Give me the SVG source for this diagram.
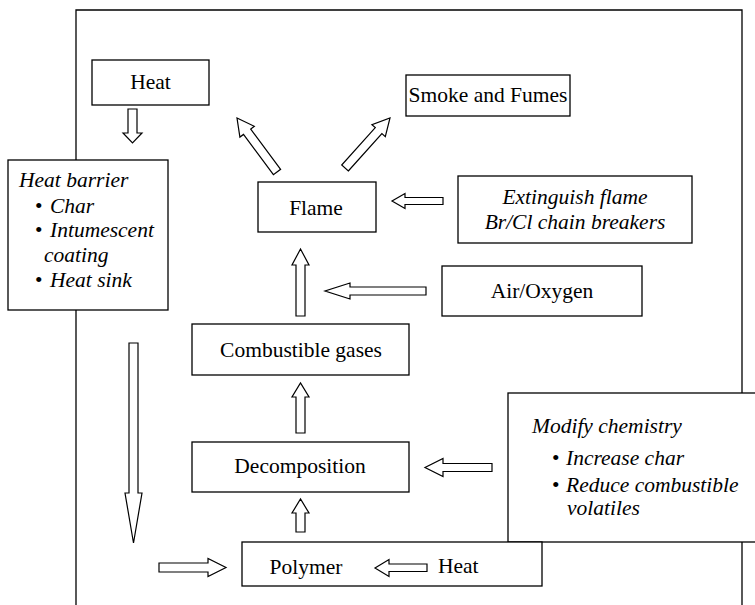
<svg xmlns="http://www.w3.org/2000/svg" width="755" height="605" viewBox="0 0 755 605">
<style>
.box{fill:#fff;stroke:#000;stroke-width:1.3}
.arr{fill:#fff;stroke:#000;stroke-width:1.2;stroke-linejoin:miter}
.frame{fill:none;stroke:#000;stroke-width:1.3}
text{font-family:'Liberation Serif','DejaVu Serif',serif;font-size:21.5px;fill:#000}
.c{text-anchor:middle}
.i{font-style:italic}
</style>
<rect width="755" height="605" fill="#fff"/>
<path class="frame" d="M76,606 V10 H742 V606"/>
<g id="heat-top">
<rect class="box" x="92" y="60" width="117" height="45"/>
<text class="c" x="150.5" y="89">Heat</text>
</g>
<g id="heat-barrier">
<rect class="box" x="8" y="160" width="160" height="150"/>
<text class="i" x="19" y="187">Heat barrier</text>
<text x="35" y="213">•</text><text class="i" x="50" y="213">Char</text>
<text x="35" y="237">•</text><text class="i" x="50" y="237">Intumescent</text>
<text class="i" x="44" y="262">coating</text>
<text x="35" y="287">•</text><text class="i" x="50" y="287">Heat sink</text>
</g>
<g id="flame">
<rect class="box" x="258" y="182" width="118" height="50"/>
<text class="c" x="316" y="215">Flame</text>
</g>
<g id="smoke">
<rect class="box" x="406" y="75" width="164" height="41"/>
<text class="c" x="488" y="102">Smoke and Fumes</text>
</g>
<g id="extinguish">
<rect class="box" x="458" y="176" width="234" height="67"/>
<text class="c i" x="575" y="204">Extinguish flame</text>
<text class="c i" x="575" y="229">Br/Cl chain breakers</text>
</g>
<g id="air">
<rect class="box" x="442" y="266" width="200" height="50"/>
<text class="c" x="542" y="298">Air/Oxygen</text>
</g>
<g id="combustible">
<rect class="box" x="192" y="324" width="217" height="51"/>
<text class="c" x="301" y="357">Combustible gases</text>
</g>
<g id="decomposition">
<rect class="box" x="192" y="442" width="217" height="50"/>
<text class="c" x="300" y="473">Decomposition</text>
</g>
<g id="modify">
<rect class="box" x="508" y="393" width="260" height="149"/>
<text class="i" x="532" y="433">Modify chemistry</text>
<text x="552" y="465">•</text><text class="i" x="566" y="465">Increase char</text>
<text x="552" y="492">•</text><text class="i" x="566" y="492">Reduce combustible</text>
<text class="i" x="567" y="515">volatiles</text>
</g>
<g id="polymer">
<rect class="box" x="242" y="542" width="300" height="44"/>
<text class="c" x="306" y="574">Polymer</text>
<text x="438" y="573">Heat</text>
</g>
<g id="connectors">
<polygon class="arr" points="128,109 137,109 137,133 142,133 132.5,143 123,133 128,133"/>
<polygon class="arr" points="280.6,169.3 250.7,129 254.3,126.3 237,118 239.9,137.1 243.5,134.4 273.4,174.7"/>
<polygon class="arr" points="348.3,171 381.9,133.6 385.3,136.6 390,118 371.9,124.6 375.3,127.6 341.7,165"/>
<polygon class="arr" points="443,197.5 405,197.5 405,193.5 392,201 405,208.5 405,204.5 443,204.5"/>
<polygon class="arr" points="426,287 350,287 350,283 325,291 350,299 350,295 426,295"/>
<polygon class="arr" points="296,316 296,265 292,265 300.5,249 309,265 305,265 305,316"/>
<polygon class="arr" points="296,433 296,397 292,397 300.5,383 309,397 305,397 305,433"/>
<polygon class="arr" points="296,532 296,513 292,513 300.5,499 309,513 305,513 305,532"/>
<polygon class="arr" points="492,463.5 443,463.5 443,458.5 425,467.5 443,476.5 443,471.5 492,471.5"/>
<polygon class="arr" points="129,343 138,343 138,493 142,493 133.5,543 125,493 129,493"/>
<polygon class="arr" points="159,563 208,563 208,558.5 226,567.5 208,576.5 208,572 159,572"/>
<polygon class="arr" points="427,564 389,564 389,559.5 375,568 389,576.5 389,571.5 427,571.5"/>
</g>
</svg>
